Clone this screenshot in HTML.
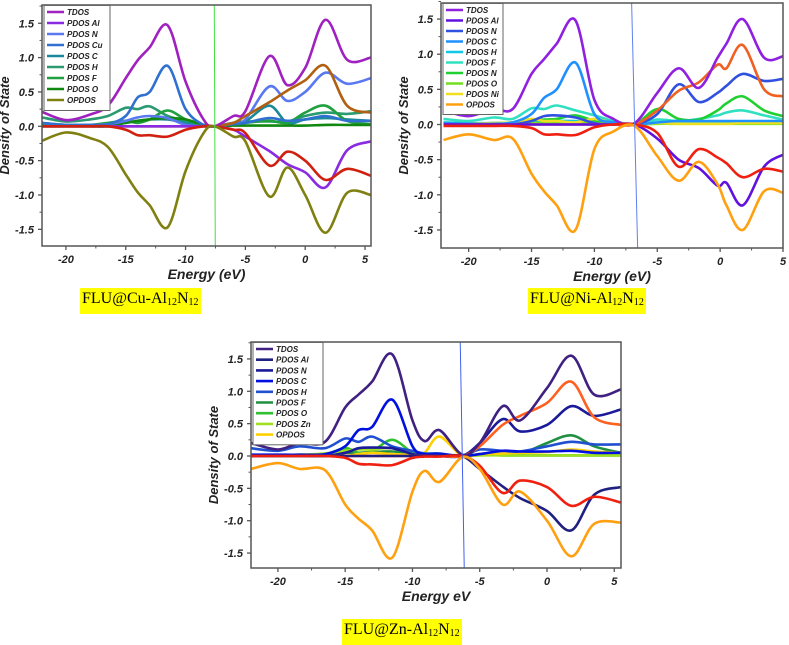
<!DOCTYPE html>
<html><head><meta charset="utf-8"><style>
body{margin:0;background:#fff;width:789px;height:641px;overflow:hidden;position:relative;font-family:"Liberation Sans",sans-serif}
.cap{position:absolute;background:#ffff00;font-family:"Liberation Serif",serif;font-size:16px;line-height:22px;padding:0 2px;white-space:nowrap}
.cap sub{font-size:10px;vertical-align:-2px}
svg{position:absolute;left:0;top:0}
</style></head><body>
<svg id="chart" width="789" height="641"></svg>
<div class="cap" style="left:80px;top:288px">FLU@Cu-Al<sub>12</sub>N<sub>12</sub></div>
<div class="cap" style="left:528px;top:288px">FLU@Ni-Al<sub>12</sub>N<sub>12</sub></div>
<div class="cap" style="left:342px;top:619px">FLU@Zn-Al<sub>12</sub>N<sub>12</sub></div>
<script>
// ---- data: panel Cu ----
const energyCu=[-22,-20,-18,-16.5,-15,-14,-13,-11.5,-10,-8.5,-7.6,-6,-5,-3,-1.5,0,1.7,3.5,5.5];
const cuTDOS=[0.21,0.09,0.17,0.3,0.7,0.96,1.15,1.47,0.65,0.1,0,0.15,0.22,1.02,0.6,0.85,1.55,0.97,1.0];
const cuAl=[0,0,0,0,0,0,0,0,0,0,0,-0.05,-0.15,-0.36,-0.55,-0.67,-0.89,-0.35,-0.22];
const cuN=[0.05,0.02,0.02,0.03,0.08,0.13,0.15,0.12,0.02,0,0,0.05,0.1,0.58,0.37,0.5,0.78,0.62,0.7];
const cuCu=[0.05,0.02,0.02,0.03,0.15,0.42,0.5,0.88,0.25,0.02,0,0.03,0.05,0.12,0.08,0.1,0.15,0.08,0.08];
const cuC=[0.02,0.02,0.02,0.03,0.05,0.08,0.1,0.1,0.05,0.02,0,0.05,0.07,0.3,0.05,0.1,0.12,0.1,0.08];
const cuH=[0.13,0.07,0.1,0.15,0.27,0.25,0.29,0.15,0.08,0.02,0,0.05,0.07,0.07,0.07,0.15,0.2,0.18,0.22];
const cuF=[0.02,0.01,0.02,0.05,0.08,0.05,0.1,0.23,0.1,0.02,0,0.02,0.05,0.08,0.05,0.2,0.3,0.08,0.03];
const cuO=[0,0,0,0,0.05,0.08,0.1,0.12,0.1,0.02,0,0.01,0.01,0.01,0.01,0.01,0.02,0.02,0.02];
const cuOPDOS=[-0.21,-0.09,-0.17,-0.3,-0.7,-0.96,-1.15,-1.47,-0.65,-0.1,0,-0.15,-0.22,-1.02,-0.6,-1.0,-1.55,-0.97,-1.0];
const cuRed=[0,0,0,0,-0.05,-0.13,-0.13,-0.15,-0.05,0,0,-0.05,-0.1,-0.57,-0.37,-0.5,-0.78,-0.62,-0.72];
const cuBrown=[0,0,0,0,0,0,0,0,0,0,0,0.05,0.15,0.35,0.52,0.67,0.88,0.3,0.2];
// ---- data: panel Ni ----
const energyNi=[-22,-20,-18,-16.5,-15,-14,-13,-11.5,-10,-8.5,-6.8,-5,-3.3,-1.7,-0.2,0.5,1.8,3.5,5];
const niTDOS=[0.2,0.12,0.22,0.22,0.72,0.93,1.15,1.48,0.35,0.08,0.02,0.45,0.8,0.52,0.95,1.15,1.5,0.95,0.97];
const niAl=[0,0,0,0,0,0,0,0,0,0,0,-0.2,-0.5,-0.62,-0.87,-0.83,-1.15,-0.6,-0.43];
const niN=[0,0,0,0,0.05,0.12,0.13,0.1,0.02,0,0,0.15,0.57,0.32,0.45,0.55,0.72,0.62,0.65];
const niC=[0.02,0.01,0.01,0.03,0.15,0.38,0.5,0.88,0.15,0.03,0,0.03,0.05,0.05,0.05,0.05,0.05,0.05,0.05];
const niH=[0.03,0.02,0.02,0.02,0.04,0.05,0.05,0.05,0.03,0.01,0,0.02,0.02,0.02,0.02,0.03,0.03,0.03,0.03];
const niF=[0.08,0.05,0.1,0.08,0.23,0.22,0.27,0.2,0.13,0.05,0,0.07,0.05,0.08,0.13,0.17,0.2,0.13,0.07];
const niN2=[0.02,0.01,0.02,0.03,0.06,0.07,0.08,0.13,0.05,0.02,0,0.22,0.08,0.07,0.2,0.3,0.4,0.2,0.12];
const niO=[0.01,0.01,0.01,0.01,0.02,0.02,0.02,0.02,0.02,0.01,0,0.01,0.01,0.01,0.01,0.01,0.01,0.01,0.01];
const niNi=[0.01,0.01,0.02,0.03,0.08,0.05,0.05,0.03,0.08,0.02,0,0.02,0.01,0.01,0.01,0.01,0.02,0.02,0.02];
const niOPDOS=[-0.22,-0.14,-0.22,-0.2,-0.7,-0.95,-1.15,-1.5,-0.35,-0.1,-0.02,-0.45,-0.8,-0.53,-0.85,-1.15,-1.5,-0.95,-0.97];
const niRed=[-0.02,-0.02,-0.02,-0.02,-0.05,-0.14,-0.14,-0.15,-0.04,0,0,-0.12,-0.6,-0.35,-0.47,-0.55,-0.75,-0.63,-0.67];
const niOrange=[0,0,0,0,0,0,0,0,0,0,0,0.2,0.48,0.6,0.85,0.8,1.13,0.5,0.4];
// ---- data: panel Zn ----
const energyZn=[-22,-20,-18.4,-16.5,-15,-14,-13,-11.5,-10,-9.1,-8,-6.3,-5,-3.3,-2,0,1.8,3.5,5.5];
const znTDOS=[0.2,0.1,0.2,0.22,0.75,0.95,1.15,1.57,0.55,0.23,0.4,0.02,0.2,0.77,0.55,1.05,1.55,0.95,1.03];
const znAl=[0,0,0,0,0,0,0,0,0,0,0,0,-0.2,-0.47,-0.65,-0.85,-1.15,-0.6,-0.48];
const znN=[0,0,0,0,0.05,0.12,0.13,0.12,0.03,0.01,0,0,0.2,0.57,0.38,0.48,0.77,0.62,0.72];
const znC=[0.02,0.02,0.02,0.03,0.15,0.4,0.45,0.87,0.15,0.03,0.03,0,0.03,0.08,0.07,0.07,0.08,0.05,0.05];
const znH=[0.12,0.08,0.15,0.12,0.27,0.22,0.3,0.15,0.08,0.04,0.04,0,0.1,0.08,0.07,0.15,0.22,0.18,0.18];
const znF=[0.01,0.01,0.01,0.02,0.05,0.05,0.06,0.07,0.04,0.01,0.01,0,0.02,0.02,0.03,0.2,0.32,0.15,0.05];
const znO=[0.02,0.01,0.02,0.03,0.12,0.05,0.07,0.25,0.05,0.02,0.02,0,0.02,0.01,0.01,0.01,0.01,0.01,0.01];
const znZn=[0.01,0.01,0.02,0.04,0.08,0.1,0.1,0.12,0.03,0.02,0.02,0,0.01,0.01,0.01,0.01,0.01,0.01,0.01];
const znOPDOSy=[0,0,0,0,0,0.03,0.05,0.03,0.02,0.05,0.3,0,0.03,0.04,0.05,0.06,0.1,0.07,0.05];
const znOrangeNeg=[-0.2,-0.11,-0.2,-0.22,-0.75,-0.97,-1.15,-1.57,-0.55,-0.23,-0.4,-0.02,-0.2,-0.75,-0.55,-1.0,-1.55,-1.05,-1.03];
const znRed=[0,0,0,0,-0.03,-0.12,-0.13,-0.14,-0.03,-0.01,-0.01,0,-0.15,-0.57,-0.38,-0.48,-0.77,-0.63,-0.72];
const znOrange=[0,0,0,0,0,0,0,0,0,0,0,0,0.15,0.48,0.62,0.82,1.15,0.6,0.48];
const xTicks=[-20,-15,-10,-5,0,5];
const yTicks=[-1.5,-1.0,-0.5,0.0,0.5,1.0,1.5];
const yTickLabels=["-1.5","-1.0","-0.5","0.0","0.5","1.0","1.5"];
const fermiCu=-7.6, fermiNi=-6.8, fermiZn=-6.3;

const NS="http://www.w3.org/2000/svg";
const svg=document.getElementById('chart');
function mk(tag,attrs,parent){const e=document.createElementNS(NS,tag);for(const k in attrs)e.setAttribute(k,attrs[k]);(parent||svg).appendChild(e);return e;}
function spline(pts){let d='M'+pts[0][0].toFixed(1)+','+pts[0][1].toFixed(1);
 for(let i=0;i<pts.length-1;i++){const p0=pts[Math.max(0,i-1)],p1=pts[i],p2=pts[i+1],p3=pts[Math.min(pts.length-1,i+2)];
  const c1=[p1[0]+(p2[0]-p0[0])/6,p1[1]+(p2[1]-p0[1])/6],c2=[p2[0]-(p3[0]-p1[0])/6,p2[1]-(p3[1]-p1[1])/6];
  d+=' C'+c1[0].toFixed(1)+','+c1[1].toFixed(1)+' '+c2[0].toFixed(1)+','+c2[1].toFixed(1)+' '+p2[0].toFixed(1)+','+p2[1].toFixed(1);}
 return d;}
function panel(P){
 const g=mk('g',{});
 
 
 const xs=v=>P.L+(v-P.xmin)/(P.xmax-P.xmin)*(P.R-P.L);
 const ys=v=>P.y0-v*P.yu;
 const cp=mk('clipPath',{id:'c'+P.name},g);mk('rect',{x:P.L,y:P.T,width:P.R-P.L,height:P.B-P.T},cp);
 const sg=mk('g',{'clip-path':'url(#c'+P.name+')'},g);
 P.series.forEach(s=>{
  const pts=P.energy.map((e,i)=>[xs(e),ys(s.v[i])]);
  const p=mk('path',{d:spline(pts),fill:'none',stroke:s.c,'stroke-width':2.6,'stroke-linejoin':'round'},sg);
  
  
 });
 const fl=mk('line',{x1:xs(P.fermi)+P.tilt[0],y1:P.T,x2:xs(P.fermi)+P.tilt[1],y2:P.B,stroke:P.fc,'stroke-width':1},g);
 
 
 mk('rect',{x:P.L,y:P.T,width:P.R-P.L,height:P.B-P.T,fill:'none',stroke:'#555','stroke-width':1.5},g);
 xTicks.forEach(t=>{const x=xs(t);mk('line',{x1:x,y1:P.B,x2:x,y2:P.B+4,stroke:'#555','stroke-width':1.3},g);
  const m=xs(t+2.5);if(m<P.R)mk('line',{x1:m,y1:P.B,x2:m,y2:P.B+2.5,stroke:'#555','stroke-width':1},g);
  const tx=mk('text',{x:x,y:P.B+17,'text-anchor':'middle','font-size':11,'font-weight':'bold','font-style':'italic',fill:'#222'},g);tx.textContent=String(t);
  
  });
 yTicks.forEach((t,i)=>{const y=ys(t);mk('line',{x1:P.L-4,y1:y,x2:P.L,y2:y,stroke:'#555','stroke-width':1.3},g);
  mk('line',{x1:P.L-2.5,y1:ys(t+0.25),x2:P.L,y2:ys(t+0.25),stroke:'#555','stroke-width':1},g);
  const tx=mk('text',{x:P.L-8,y:y+4,'text-anchor':'end','font-size':11,'font-weight':'bold','font-style':'italic',fill:'#222'},g);tx.textContent=yTickLabels[i];
  
  });
 const xt=mk('text',{x:(P.L+P.R)/2,y:P.B+33,'text-anchor':'middle','font-size':14,'font-weight':'bold','font-style':'italic',fill:'#222'},g);xt.textContent=P.xlabel;
 
 
 const yt=mk('text',{transform:'translate('+(P.L-33)+','+((P.T+P.B)/2)+') rotate(-90)','text-anchor':'middle','font-size':13,'font-weight':'bold','font-style':'italic',fill:'#222'},g);yt.textContent='Density of State';
 
 
 const lg=mk('g',{},g);
 
 
 const n=P.legend.length;
 mk('rect',{x:P.L+2,y:P.T+0.5,width:P.lw,height:n*P.ls+6,fill:'#fff',stroke:'#666','stroke-width':1},lg);
 P.legend.forEach((l,i)=>{const y=P.T+7+i*P.ls;
  mk('line',{x1:P.L+5,y1:y,x2:P.L+22,y2:y,stroke:l[1],'stroke-width':2.6},lg);
  const tx=mk('text',{x:P.L+25,y:y+3,'font-size':8,'font-weight':'bold','font-style':'italic',fill:'#222'},lg);tx.textContent=l[0];
  
  });
}
panel({name:'panel-cu',L:42,R:371,T:5,B:246,xmin:-22,xmax:5.5,y0:126.3,yu:68.7,energy:energyCu,fermi:fermiCu,fc:'#40e040',tilt:[0,1],xlabel:'Energy (eV)',lw:66,ls:11,
 series:[{k:'h',v:cuH,c:'#2a9a70'},{k:'c',v:cuC,c:'#1a8a9a'},{k:'f',v:cuF,c:'#20a040'},{k:'o',v:cuO,c:'#108810'},{k:'n',v:cuN,c:'#5a78f0'},{k:'cu',v:cuCu,c:'#3070d0'},{k:'brown',v:cuBrown,c:'#b06010'},{k:'tdos',v:cuTDOS,c:'#a020c0'},{k:'al',v:cuAl,c:'#8a2be2'},{k:'red',v:cuRed,c:'#d02010'},{k:'opdos',v:cuOPDOS,c:'#808010'}],
 legend:[['TDOS','#a020c0'],['PDOS Al','#8a2be2'],['PDOS N','#5a78f0'],['PDOS Cu','#3070d0'],['PDOS C','#1a8a9a'],['PDOS H','#2a9a70'],['PDOS F','#20a040'],['PDOS O','#108810'],['OPDOS','#808010']]});
panel({name:'panel-ni',L:441,R:783,T:3,B:248,xmin:-22.2,xmax:5,y0:124.5,yu:70.3,energy:energyNi,fermi:fermiNi,fc:'#6080f0',tilt:[-3,3],xlabel:'Energy (eV)',lw:60,ls:10.5,
 series:[{k:'h',v:niH,c:'#10c8e8'},{k:'f',v:niF,c:'#30e0c0'},{k:'n2',v:niN2,c:'#20d030'},{k:'o',v:niO,c:'#70e020'},{k:'ni',v:niNi,c:'#f0e020'},{k:'c',v:niC,c:'#1e90ff'},{k:'n',v:niN,c:'#3050e0'},{k:'orange',v:niOrange,c:'#f06020'},{k:'tdos',v:niTDOS,c:'#9020e0'},{k:'al',v:niAl,c:'#6010e0'},{k:'red',v:niRed,c:'#f02010'},{k:'opdos',v:niOPDOS,c:'#ffa010'}],
 legend:[['TDOS','#9020e0'],['PDOS Al','#6010e0'],['PDOS N','#3050e0'],['PDOS C','#1e90ff'],['PDOS H','#10c8e8'],['PDOS F','#30e0c0'],['PDOS N','#20d030'],['PDOS O','#70e020'],['PDOS Ni','#f0e020'],['OPDOS','#ffa010']]});
panel({name:'panel-zn',L:251,R:621,T:342,B:568,xmin:-22,xmax:5.5,y0:456,yu:64.7,energy:energyZn,fermi:fermiZn,fc:'#4060f0',tilt:[-2,2],xlabel:'Energy eV',lw:70,ls:10.7,
 series:[{k:'f',v:znF,c:'#209040'},{k:'o',v:znO,c:'#30c030'},{k:'zn',v:znZn,c:'#a0e020'},{k:'opdos',v:znOPDOSy,c:'#ffd000'},{k:'h',v:znH,c:'#2050d0'},{k:'c',v:znC,c:'#0010e0'},{k:'n',v:znN,c:'#1a1a9a'},{k:'orange',v:znOrange,c:'#ff6020'},{k:'tdos',v:znTDOS,c:'#402080'},{k:'al',v:znAl,c:'#202080'},{k:'red',v:znRed,c:'#f02010'},{k:'orange-neg',v:znOrangeNeg,c:'#ffa010'}],
 legend:[['TDOS','#402080'],['PDOS Al','#202080'],['PDOS N','#1a1a9a'],['PDOS C','#0010e0'],['PDOS H','#2050d0'],['PDOS F','#209040'],['PDOS O','#30c030'],['PDOS Zn','#a0e020'],['OPDOS','#ffd000']]});
</script>
</body></html>
